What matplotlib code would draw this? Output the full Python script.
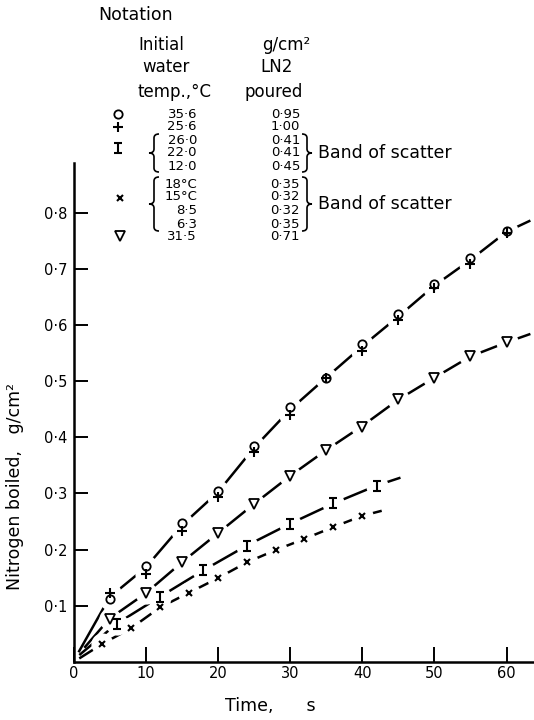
import matplotlib
matplotlib.use("Agg")
import matplotlib.pyplot as plt
from matplotlib.path import Path
from matplotlib.patches import PathPatch
from matplotlib.lines import Line2D
from matplotlib.transforms import Affine2D

# ---- dados ----
# tempo (s) e nitrogênio evaporado (g/cm2)
t_circulo = [5, 10, 15, 20, 25, 30, 35, 40, 45, 50, 55, 60]
y_circulo = [0.112, 0.171, 0.248, 0.305, 0.385, 0.453, 0.506, 0.566, 0.619, 0.673, 0.720, 0.768]
t_mais = [5, 10, 15, 20, 25, 30, 35, 40, 45, 50, 55, 60]
y_mais = [0.123, 0.157, 0.233, 0.294, 0.373, 0.440, 0.506, 0.553, 0.608, 0.665, 0.708, 0.764]
t_triang = [5, 10, 15, 20, 25, 30, 35, 40, 45, 50, 55, 60]
y_triang = [0.076, 0.122, 0.177, 0.230, 0.281, 0.331, 0.377, 0.419, 0.468, 0.506, 0.544, 0.569]
t_barra = [6, 12, 18, 24, 30, 36, 42]
y_barra = [0.068, 0.116, 0.163, 0.207, 0.246, 0.282, 0.314]
t_xis = [4, 8, 12, 16, 20, 24, 28, 32, 36, 40]
y_xis = [0.032, 0.060, 0.097, 0.123, 0.149, 0.177, 0.199, 0.219, 0.240, 0.260]

# curvas desenhadas à mão
curva_sup_t = [0.7, 5, 10, 15, 20, 25, 30, 35, 40, 45, 50, 55, 60, 63.3]
curva_sup_y = [0.017, 0.115, 0.168, 0.243, 0.302, 0.381, 0.449, 0.506, 0.562, 0.615, 0.670, 0.716, 0.766, 0.786]
curva_tri_t = [1.5, 5, 10, 15, 20, 25, 30, 35, 40, 45, 50, 55, 60, 63.3]
curva_tri_y = [0.025, 0.077, 0.122, 0.177, 0.229, 0.281, 0.331, 0.377, 0.420, 0.467, 0.506, 0.544, 0.569, 0.584]
curva_bar_t = [0.8, 6, 12, 18, 24, 30, 36, 42, 45.3]
curva_bar_y = [0.012, 0.068, 0.116, 0.163, 0.207, 0.246, 0.282, 0.314, 0.328]
curva_xis_t = [0.8, 4, 8, 12, 16, 20, 24, 28, 32, 36, 40, 42.7]
curva_xis_y = [0.006, 0.032, 0.060, 0.097, 0.123, 0.149, 0.177, 0.199, 0.219, 0.240, 0.260, 0.269]

# tabela de notação
temperaturas = ["35·6", "25·6", "26·0", "22·0", "12·0", "18°C", "15°C", "8·5", "6·3", "31·5"]
vazado = ["0·95", "1·00", "0·41", "0·41", "0·45", "0·35", "0·32", "0·32", "0·35", "0·71"]

x_ticks = [0, 10, 20, 30, 40, 50, 60]
x_rotulos = ["0", "10", "20", "30", "40", "50", "60"]
y_ticks = [0.1, 0.2, 0.3, 0.4, 0.5, 0.6, 0.7, 0.8]
y_rotulos = ["0·1", "0·2", "0·3", "0·4", "0·5", "0·6", "0·7", "0·8"]

plt.rcParams["font.family"] = "DejaVu Sans"

W, H = 534, 720
fig = plt.figure(figsize=(W / 100, H / 100), dpi=100)
# transformação em pixels (origem no canto superior esquerdo)
pix = Affine2D().scale(1 / W, -1 / H).translate(0, 1) + fig.transFigure

ax = fig.add_axes([73.5 / W, 1 - 661.8 / H, (W - 73.5) / W, (661.8 - 163) / H])
ax.set_xlim(0, 63.8)
ax.set_ylim(0, 0.8885)

# marcador "I"
marcador_I = Path([(-0.35, 0.5), (0.35, 0.5), (0, 0.5), (0, -0.5), (-0.35, -0.5), (0.35, -0.5)],
                  [Path.MOVETO, Path.LINETO, Path.MOVETO, Path.LINETO, Path.MOVETO, Path.LINETO])

# curvas
for t, y in [(curva_sup_t, curva_sup_y), (curva_tri_t, curva_tri_y),
             (curva_bar_t, curva_bar_y), (curva_xis_t, curva_xis_y)]:
    ax.plot(t, y, color="black", lw=1.8, zorder=2, solid_capstyle="butt")

# "buracos" brancos na linha em volta dos marcadores
for t, y in [(t_circulo, y_circulo), (t_mais, y_mais), (t_triang, y_triang),
             (t_barra, y_barra), (t_xis, y_xis)]:
    ax.plot(t, y, ls="none", marker="o", ms=16, mfc="white", mec="white", mew=0, zorder=3)

estilos = {
    "circulo": dict(marker="o", ms=6, mfc="white", mec="black", mew=1.3),
    "mais": dict(marker="+", ms=6.5, mec="black", mew=1.5),
    "triang": dict(marker="v", ms=6.5, mfc="white", mec="black", mew=1.3),
    "barra": dict(marker=marcador_I, ms=7.5, mec="black", mew=1.5),
    "xis": dict(marker="x", ms=5, mec="black", mew=1.5),
}
ax.plot(t_circulo, y_circulo, ls="none", zorder=4, **estilos["circulo"])
ax.plot(t_mais, y_mais, ls="none", zorder=5, **estilos["mais"])
ax.plot(t_triang, y_triang, ls="none", zorder=4, **estilos["triang"])
ax.plot(t_barra, y_barra, ls="none", zorder=4, **estilos["barra"])
ax.plot(t_xis, y_xis, ls="none", zorder=4, **estilos["xis"])

# eixos
for lado in ["top", "right"]:
    ax.spines[lado].set_visible(False)
for lado in ["left", "bottom"]:
    ax.spines[lado].set_linewidth(1.8)
ax.set_xticks(x_ticks)
ax.set_xticklabels(x_rotulos)
ax.set_yticks(y_ticks)
ax.set_yticklabels(y_rotulos)
ax.tick_params(axis="x", direction="in", length=10.8, width=1.4, pad=3, labelsize=10.5)
ax.tick_params(axis="y", direction="in", length=10, width=1.4, pad=4.5, labelsize=10.5)

fig.text(270, 706, "Time,      s", transform=pix, ha="center", va="center", fontsize=12.5)
fig.text(15, 487, "Nitrogen boiled,   g/cm²", transform=pix, ha="center", va="center",
         rotation=90, fontsize=12.5)

# ---- tabela de notação ----
fig.text(98, 15, "Notation", transform=pix, ha="left", va="center", fontsize=12.5)
fig.text(138, 45, "Initial", transform=pix, ha="left", va="center", fontsize=12)
fig.text(142, 67, "water", transform=pix, ha="left", va="center", fontsize=12)
fig.text(137, 92, "temp.,°C", transform=pix, ha="left", va="center", fontsize=12)
fig.text(286, 45, "g/cm²", transform=pix, ha="center", va="center", fontsize=12)
fig.text(277, 67, "LN2", transform=pix, ha="center", va="center", fontsize=12)
fig.text(274, 92, "poured", transform=pix, ha="center", va="center", fontsize=12)

linhas_y = [114, 127, 140, 153, 166, 184, 197, 211, 224, 237]
for yy, temp, val in zip(linhas_y, temperaturas, vazado):
    fig.text(197, yy, temp, transform=pix, ha="right", va="center", fontsize=9.5)
    fig.text(300, yy, val, transform=pix, ha="right", va="center", fontsize=9.5)

for nome, (sx, sy) in zip(["circulo", "mais", "barra", "xis", "triang"],
                          [(118, 114), (118, 127), (118, 148), (120, 198), (120, 236)]):
    fig.add_artist(Line2D([sx], [sy], transform=pix, ls="none", **estilos[nome]))


def chave(x, ytop, ybot, meia, d):
    # chave "{" (d=1) ou "}" (d=-1) em pixels
    ym = (ytop + ybot) / 2
    r = 4
    verts = [(x + d * meia, ytop), (x, ytop), (x, ytop + r), (x, ym - r),
             (x, ym), (x - d * meia, ym), (x, ym), (x, ym + r), (x, ybot - r),
             (x, ybot), (x + d * meia, ybot)]
    codes = [Path.MOVETO, Path.CURVE3, Path.CURVE3, Path.LINETO,
             Path.CURVE3, Path.CURVE3, Path.CURVE3, Path.CURVE3, Path.LINETO,
             Path.CURVE3, Path.CURVE3]
    fig.add_artist(PathPatch(Path(verts, codes), transform=pix, fill=False,
                             lw=1.2, edgecolor="black"))


chave(154, 134, 172, 5, 1)
chave(307, 134, 172, 5, -1)
chave(154, 177, 231, 5, 1)
chave(307, 177, 231, 5, -1)
fig.text(318, 153, "Band of scatter", transform=pix, ha="left", va="center", fontsize=12.5)
fig.text(318, 204, "Band of scatter", transform=pix, ha="left", va="center", fontsize=12.5)

fig.savefig("out.png", dpi=100, facecolor="white")
